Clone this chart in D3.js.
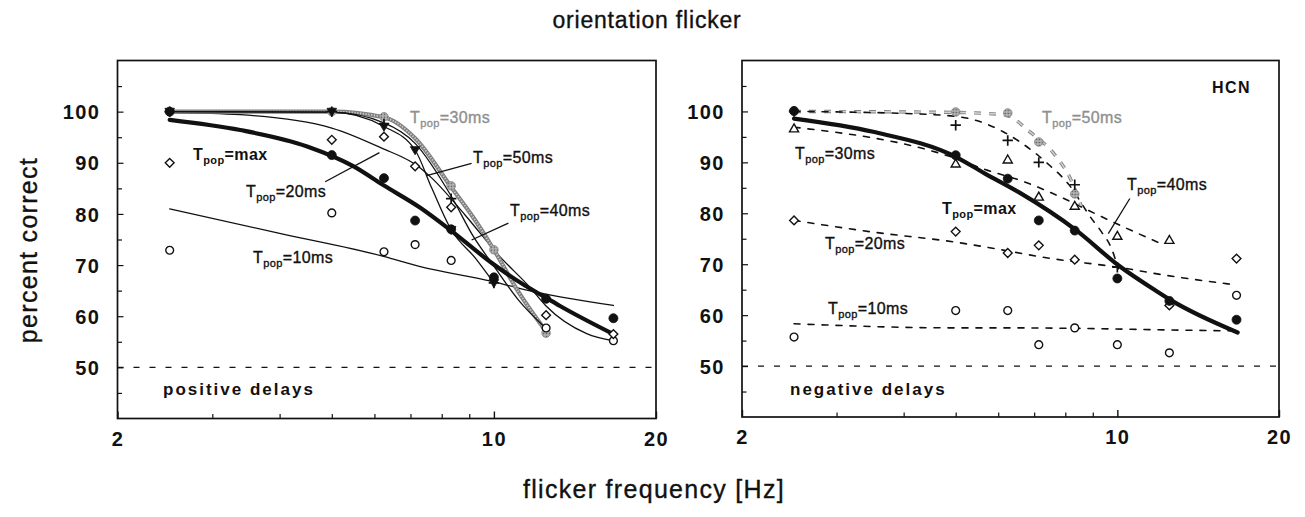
<!DOCTYPE html>
<html>
<head>
<meta charset="utf-8">
<script src="https://cdn.jsdelivr.net/npm/d3@7"></script>
<style>
  body { margin: 0; background: #fff; }
  svg { display: block; }
  text { font-family: "Liberation Sans", Arial, Helvetica, sans-serif; fill: #111; }
  .heavy { stroke: #111; stroke-width: 0.35px; }
  .heavy-grey { stroke: #8f8f8f; stroke-width: 0.35px; }
</style>
</head>
<body>
<svg id="chart" width="1305" height="517"></svg>
<script>
// ---- flicker frequencies (Hz) of the measured conditions ----
const freqs = [2.5, 5, 6.25, 7.14, 8.33, 10, 12.5, 16.67];
const xTickLabels = [2, 10, 20];
const xMinorTicks = [3, 4, 5, 6, 7, 8, 9];
const yTickLabels = [50, 60, 70, 80, 90, 100];
const yMinorTicks = [45, 55, 65, 75, 85, 95, 105];

// ---- positive delays: percent correct per frequency ----
const posMax = [100, 91.5, 87.0, 78.7, 77.0, 67.6, 63.4, 59.6];
const posT10 = [72.9, 80.2, 72.6, 74.0, 70.9, null, 57.7, 55.2];
const posT20 = [90.0, 94.5, 95.1, 89.3, 81.3, null, 60.2, 56.5];
const posT30 = [100, 100, 99.0, null, 85.5, 73.0, 56.7, null];
const posT40 = [100, 100, 97.6, null, 83.0, 66.5, null, null];
const posT50 = [100, 100, 97.1, 92.5, 76.9, 66.5, null, null];

// ---- positive delays: fitted curves, [frequency, percent] ----
const posFitMax = [[2.5,98.4],[3.38,96.4],[4.5,93.2],[5.49,89.3],[6.24,85.6],[7.3,81.2],[8.36,76.6],[9.91,70.4],[11.42,66.0],[12.5,63.6],[13.27,62.0],[16.67,56.5]];
const posFit10 = [[2.5,81.0],[4,76.2],[6.24,71.7],[7.3,69.7],[9.93,66.8],[11.4,65.2],[16.67,62.1]];
const posFit20 = [[2.5,99.8],[3.38,99.4],[5.0,96.8],[6.15,93.0],[7.3,89.0],[7.67,87.0],[8.84,79.8],[10.19,72.0],[11.7,65.5],[12.5,62.0],[14.87,56.6],[16.67,55.2]];
const posFit30 = [[2.5,100],[5,100],[6.25,98.9],[7.14,94.8],[8.36,85.0],[9.17,79.2],[10.0,73.0],[11.1,64.8],[12.5,57.0]];
const posFit40 = [[2.5,100],[5,99.9],[6.25,97.8],[7.14,93.8],[8.33,83.5],[9.17,75.5],[10,69.8],[11.1,63.2],[12.5,57.6]];
const posFit50 = [[2.5,100],[5,99.9],[6.25,97.1],[7.14,92.5],[7.67,85.0],[8.33,76.9],[9.23,71.4],[10,66.5]];

// ---- negative delays: percent correct per frequency ----
const negMax = [100.1, 91.4, 86.8, 78.6, 76.6, 67.2, 62.8, 59.1];
const negT10 = [55.7, 60.9, 60.9, 54.2, 57.5, 54.2, 52.6, 63.9];
const negT20 = [78.6, 76.4, 72.2, 73.7, 70.9, null, 61.9, 71.1];
const negT30 = [96.6, 89.7, 90.5, 83.2, 81.4, 75.5, 74.7, null];
const negT40 = [100, 97.3, 94.3, 90.0, 85.6, 69.4, null, null];
const negT50 = [100, 99.9, 99.7, 94.0, 83.8, null, null, null];

// ---- negative delays: fitted curves ----
const negFitMax = [[2.5,98.6],[3.51,96.0],[5.02,91.0],[5.67,87.8],[6.54,84.2],[8.4,76.6],[10.04,69.8],[11.92,64.5],[12.6,62.9],[16.75,56.6]];
const negFit10 = [[2.5,58.3],[5,57.5],[6.25,57.5],[8.4,57.4],[12.36,57.1],[16.67,56.9]];
const negFit20 = [[2.5,78.6],[3.51,76.3],[5.02,74.3],[5.67,73.4],[7.55,71.1],[10.04,69.4],[12.36,67.8],[16.44,66.0]];
const negFit30 = [[2.5,96.9],[5.02,90.7],[5.67,88.6],[6.54,86.6],[8.1,82.5],[8.7,80.9],[10.63,76.6],[12.27,73.7]];
const negFit40 = [[2.5,100],[4,99.6],[5.02,99.0],[5.39,98.4],[6.13,96.0],[6.59,94.0],[7.39,89.9],[8.1,85.8],[8.96,78.9],[9.35,76.3],[9.76,73.0],[10.04,69.1]];
const negFit50 = [[2.5,100],[5,99.8],[6.2,99.3],[6.83,96.2],[7.71,91.0],[8.16,87.0],[8.56,81.5]];

const svg = d3.select("#chart");

// halftone grey used for the 30 ms (positive) / 50 ms (negative) condition
const defs = svg.append("defs");
const pat = defs.append("pattern").attr("id", "stipple")
  .attr("patternUnits", "userSpaceOnUse").attr("width", 3).attr("height", 3);
pat.append("rect").attr("width", 3).attr("height", 3).attr("fill", "#a0a0a0");
pat.append("rect").attr("width", 1).attr("height", 1).attr("fill", "#555");
pat.append("rect").attr("x", 1.5).attr("y", 1.5).attr("width", 1).attr("height", 1).attr("fill", "#e6e6e6");
const GREY = "url(#stipple)";

// marker shapes
function markerPath(type, r) {
  const p = d3.path();
  if (type === "circle" || type === "open" || type === "grey") {
    p.arc(0, 0, r, 0, 2 * Math.PI);
  } else if (type === "diamond") {
    p.moveTo(0, -r); p.lineTo(r, 0); p.lineTo(0, r); p.lineTo(-r, 0); p.closePath();
  } else if (type === "triDown") {
    p.moveTo(-r, -r * 0.7); p.lineTo(r, -r * 0.7); p.lineTo(0, r * 1.0); p.closePath();
  } else if (type === "triUp") {
    p.moveTo(0, -r); p.lineTo(r * 0.95, r * 0.65); p.lineTo(-r * 0.95, r * 0.65); p.closePath();
  } else if (type === "plus") {
    p.moveTo(-r, 0); p.lineTo(r, 0); p.moveTo(0, -r); p.lineTo(0, r);
  }
  return p.toString();
}
const markerStyle = {
  circle:  { r: 4.5, fill: "#111", stroke: "#111", sw: 0.8 },
  open:    { r: 3.9, fill: "#fff", stroke: "#111", sw: 1.4 },
  grey:    { r: 4.3, fill: GREY,   stroke: "#888", sw: 0.8 },
  diamond: { r: 4.4, fill: "#fff", stroke: "#111", sw: 1.4 },
  triDown: { r: 4.8, fill: "#111", stroke: "#111", sw: 0.8 },
  triUp:   { r: 4.8, fill: "#fff", stroke: "#111", sw: 1.4 },
  plus:    { r: 5.2, fill: "none", stroke: "#111", sw: 1.7 }
};

function tpop(g, x, y, suffix, opts = {}) {
  const t = g.append("text").attr("x", x).attr("y", y)
    .attr("font-size", 16).attr("letter-spacing", 0.4)
    .attr("font-weight", opts.bold ? 700 : 400)
    .attr("class", opts.bold ? null : (opts.grey ? "heavy-grey" : "heavy"))
    .style("fill", opts.grey ? "#8f8f8f" : "#111");
  t.append("tspan").text("T");
  t.append("tspan").attr("font-size", 11).attr("dy", 4).text("pop");
  t.append("tspan").attr("dy", -4).text("=" + suffix);
  return t;
}

function drawPanel(cfg) {
  const x = d3.scaleLog().domain([2, 20]).range([cfg.x0, cfg.x1]);
  const y = d3.scaleLinear().domain([40, 110]).range([cfg.y1, cfg.y0]);
  const g = svg.append("g");

  // y axis ticks (inside) with labels
  const yMajor = d3.axisLeft(y).tickValues(yTickLabels).tickSizeInner(-6).tickSizeOuter(0).tickPadding(17);
  const ya = g.append("g").attr("transform", `translate(${cfg.x0},0)`).call(yMajor);
  ya.select(".domain").remove();
  ya.selectAll("line").attr("stroke", "#111").attr("stroke-width", 1.2);
  ya.selectAll("text").attr("font-size", 20).attr("font-weight", 700)
    .attr("letter-spacing", 1.5).attr("dy", "0.36em").style("fill", "#111");
  const yMinor = d3.axisLeft(y).tickValues(yMinorTicks).tickSizeInner(-4.5).tickSizeOuter(0).tickFormat("");
  const ym = g.append("g").attr("transform", `translate(${cfg.x0},0)`).call(yMinor);
  ym.select(".domain").remove();
  ym.selectAll("line").attr("stroke", "#111").attr("stroke-width", 1.2);

  // x axis ticks (inside)
  const xMinor = d3.axisBottom(x).tickValues(xMinorTicks).tickSizeInner(-4.5).tickSizeOuter(0).tickFormat("");
  const xm = g.append("g").attr("transform", `translate(0,${cfg.y1})`).call(xMinor);
  xm.select(".domain").remove();
  xm.selectAll("line").attr("stroke", "#111").attr("stroke-width", 1.2);
  const xMajor = d3.axisBottom(x).tickValues(xTickLabels).tickSizeInner(-7).tickSizeOuter(0).tickPadding(27)
    .tickFormat(d3.format("d"));
  const xa = g.append("g").attr("transform", `translate(0,${cfg.y1})`).call(xMajor);
  xa.select(".domain").remove();
  xa.selectAll("line").attr("stroke", "#111").attr("stroke-width", 1.4);
  xa.selectAll("text").attr("font-size", 20).attr("font-weight", 700)
    .attr("letter-spacing", 1.5).attr("dy", "0").style("fill", "#111");

  // frame
  g.append("rect").attr("x", cfg.x0).attr("y", cfg.y0)
    .attr("width", cfg.x1 - cfg.x0).attr("height", cfg.y1 - cfg.y0)
    .attr("fill", "none").attr("stroke", "#111").attr("stroke-width", 1.7);

  // chance level
  g.append("line").attr("x1", cfg.x0).attr("x2", cfg.x1)
    .attr("y1", y(50)).attr("y2", y(50))
    .attr("stroke", "#111").attr("stroke-width", 1.3).attr("stroke-dasharray", "6,10");

  const line = d3.line().x(d => x(d[0])).y(d => y(d[1])).curve(d3.curveMonotoneX);

  // fitted curves
  cfg.fits.forEach(f => {
    if (f.grey) {
      g.append("path").attr("d", line(f.data)).attr("fill", "none")
        .attr("stroke", "#7f7f7f").attr("stroke-width", f.width)
        .attr("stroke-dasharray", f.dash || null);
      g.append("path").attr("d", line(f.data)).attr("fill", "none")
        .attr("stroke", "#d0d0d0").attr("stroke-width", f.width * 0.45)
        .attr("stroke-dasharray", f.dash ? f.dash : "1.2,1.6");
    } else {
      g.append("path").attr("d", line(f.data)).attr("fill", "none")
        .attr("stroke", "#111").attr("stroke-width", f.width)
        .attr("stroke-linecap", "round")
        .attr("stroke-dasharray", f.dash || null);
    }
  });

  // leader lines
  cfg.leaders.forEach(l => {
    g.append("line").attr("x1", x(l[0][0])).attr("y1", y(l[0][1]))
      .attr("x2", x(l[1][0])).attr("y2", y(l[1][1]))
      .attr("stroke", "#111").attr("stroke-width", 1.3);
  });

  // markers
  cfg.series.forEach(s => {
    const st = markerStyle[s.type];
    const pts = freqs.map((f, i) => [f, s.values[i]]).filter(d => d[1] != null);
    g.selectAll(null).data(pts).enter().append("path")
      .attr("transform", d => `translate(${x(d[0])},${y(d[1])})`)
      .attr("d", markerPath(s.type, st.r))
      .attr("fill", st.fill).attr("stroke", st.stroke).attr("stroke-width", st.sw);
  });

  // labels
  cfg.labels.forEach(l => tpop(g, l.x, l.y, l.text, l));
  g.append("text").attr("x", cfg.note.x).attr("y", cfg.note.y)
    .attr("font-size", 17).attr("font-weight", 700).attr("letter-spacing", 2)
    .text(cfg.note.text);
  return g;
}

// ---- left panel: positive delays ----
drawPanel({
  x0: 117.5, x1: 656, y0: 60.5, y1: 418.5,
  fits: [
    { data: posFit10, width: 1.3 },
    { data: posFit20, width: 1.3 },
    { data: posFit30, width: 4.2, grey: true },
    { data: posFit40, width: 1.3 },
    { data: posFit50, width: 1.3 },
    { data: posFitMax, width: 4.2 }
  ],
  series: [
    { values: posT30, type: "grey" },
    { values: posT10, type: "open" },
    { values: posT20, type: "diamond" },
    { values: posMax, type: "circle" },
    { values: posT50, type: "triDown" },
    { values: posT40, type: "plus" }
  ],
  leaders: [
    [[4.86, 86.3], [6.13, 92.0]],
    [[9.09, 89.9], [7.50, 87.5]],
    [[10.64, 78.2], [9.09, 74.9]]
  ],
  labels: [
    { x: 193, y: 160, text: "max", bold: true },
    { x: 246, y: 197, text: "20ms" },
    { x: 253, y: 263, text: "10ms" },
    { x: 410, y: 123, text: "30ms", grey: true },
    { x: 473, y: 163, text: "50ms" },
    { x: 510, y: 216, text: "40ms" }
  ],
  note: { x: 163, y: 395, text: "positive delays" }
});

// ---- right panel: negative delays ----
const right = drawPanel({
  x0: 742, x1: 1279, y0: 60.5, y1: 417,
  fits: [
    { data: negFit10, width: 1.6, dash: "6,8" },
    { data: negFit20, width: 1.6, dash: "6,8" },
    { data: negFit30, width: 1.6, dash: "6,8" },
    { data: negFit50, width: 3.4, dash: "7,8", grey: true },
    { data: negFit40, width: 1.6, dash: "6,8" },
    { data: negFitMax, width: 4.2 }
  ],
  series: [
    { values: negT50, type: "grey" },
    { values: negT10, type: "open" },
    { values: negT20, type: "diamond" },
    { values: negT30, type: "triUp" },
    { values: negMax, type: "circle" },
    { values: negT40, type: "plus" }
  ],
  leaders: [
    [[10.55, 82.9], [9.62, 76.0]]
  ],
  labels: [
    { x: 1042, y: 123, text: "50ms", grey: true },
    { x: 795, y: 159, text: "30ms" },
    { x: 942, y: 214, text: "max", bold: true },
    { x: 825, y: 249, text: "20ms" },
    { x: 828, y: 314, text: "10ms" },
    { x: 1127, y: 190, text: "40ms" }
  ],
  note: { x: 790, y: 395, text: "negative delays" }
});
right.append("text").attr("x", 1212).attr("y", 93).attr("font-size", 16)
  .attr("font-weight", 700).attr("letter-spacing", 1.5).text("HCN");

// ---- titles ----
svg.append("text").attr("x", 647).attr("y", 28).attr("text-anchor", "middle").attr("class", "heavy")
  .attr("font-size", 23).attr("letter-spacing", 0.8).text("orientation flicker");
svg.append("text").attr("x", 654).attr("y", 498).attr("text-anchor", "middle").attr("class", "heavy")
  .attr("font-size", 25).attr("letter-spacing", 1.3).text("flicker frequency [Hz]");
svg.append("text").attr("transform", "translate(37,250) rotate(-90)").attr("text-anchor", "middle").attr("class", "heavy")
  .attr("font-size", 25).attr("letter-spacing", 1.3).text("percent correct");
</script>
</body>
</html>
